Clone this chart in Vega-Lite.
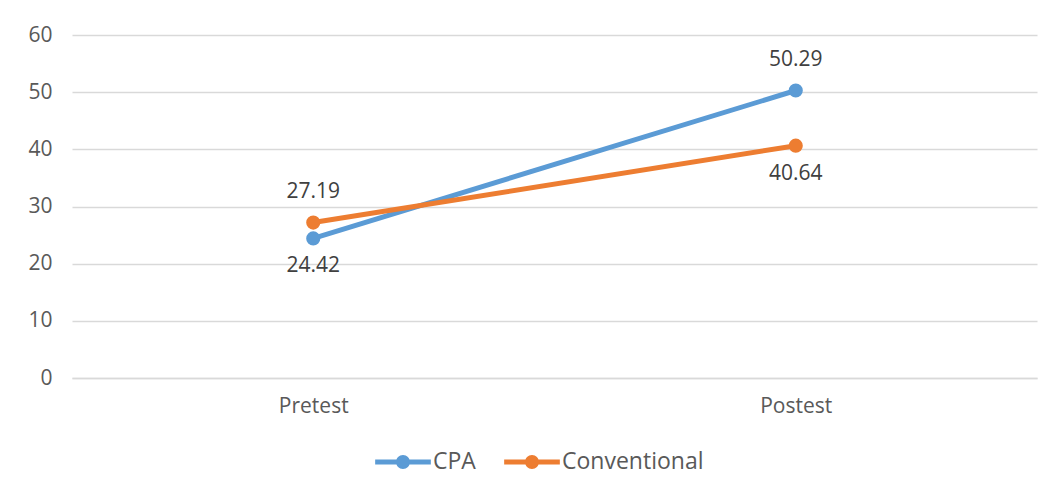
{
  "$schema": "https://vega.github.io/schema/vega-lite/v6.json",
  "autosize": "none",
  "width": 965,
  "height": 343,
  "padding": {"left": 72, "top": 35, "right": 22, "bottom": 119},
  "background": "white",
  "config": {
    "font": "Open Sans",
    "view": {"stroke": null},
    "axis": {"labelFont": "Open Sans", "labelFontSize": 21, "labelColor": "#595959", "gridColor": "#d9d9d9", "gridWidth": 1.3, "ticks": false}
  },
  "data": {"values": [
    {"test": "Pretest", "group": "CPA", "score": 24.42},
    {"test": "Postest", "group": "CPA", "score": 50.29},
    {"test": "Pretest", "group": "Conventional", "score": 27.19},
    {"test": "Postest", "group": "Conventional", "score": 40.64}
  ]},
  "encoding": {
    "x": {"field": "test", "type": "nominal", "sort": ["Pretest", "Postest"], "scale": {"paddingInner": 0, "paddingOuter": 0},
      "axis": {"title": null, "labelAngle": 0, "labelPadding": 17, "domainColor": "#d9d9d9", "domainWidth": 1.3, "grid": false}},
    "y": {"field": "score", "type": "quantitative", "scale": {"domain": [0, 60]},
      "axis": {"title": null, "values": [0,10,20,30,40,50,60], "domain": false, "labelPadding": 20, "grid": true}}
  },
  "layer": [
    {
      "mark": {"type": "line", "strokeWidth": 5, "point": {"filled": true, "size": 200}},
      "encoding": {
        "color": {"field": "group", "type": "nominal", "sort": ["CPA", "Conventional"],
          "scale": {"domain": ["CPA", "Conventional"], "range": ["#5B9BD5", "#ED7D31"]},
          "legend": {"title": null, "orient": "none", "legendX": 303, "legendY": 399, "direction": "horizontal",
            "labelFontSize": 23, "labelColor": "#595959", "labelFont": "Open Sans",
            "symbolType": "M-1,-0.09 L1,-0.09 L1,0.09 L-1,0.09 Z M0.25,0 A0.25,0.25 0 1,1 -0.25,0 A0.25,0.25 0 1,1 0.25,0 Z",
            "symbolSize": 3100, "symbolStrokeWidth": 0, "columnPadding": 28, "labelOffset": 2,
            "encode": {"symbols": {"update": {"fill": {"field": "value", "scale": "color"}, "strokeWidth": {"value": 0}}}}}
        }
      }
    },
    {
      "transform": [{"filter": "(datum.group === 'CPA' && datum.test === 'Postest') || (datum.group === 'Conventional' && datum.test === 'Pretest')"}],
      "mark": {"type": "text", "fontSize": 21, "color": "#404040", "dy": -31},
      "encoding": {"text": {"field": "score", "type": "quantitative", "format": ".2f"}}
    },
    {
      "transform": [{"filter": "(datum.group === 'CPA' && datum.test === 'Pretest') || (datum.group === 'Conventional' && datum.test === 'Postest')"}],
      "mark": {"type": "text", "fontSize": 21, "color": "#404040", "dy": 28},
      "encoding": {"text": {"field": "score", "type": "quantitative", "format": ".2f"}}
    }
  ]
}
